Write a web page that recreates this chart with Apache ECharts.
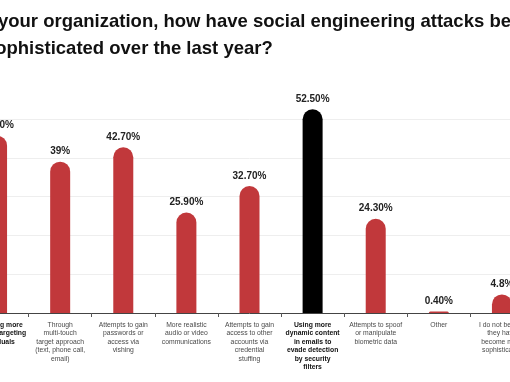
<!DOCTYPE html>
<html>
<head>
<meta charset="utf-8">
<script src="https://cdn.jsdelivr.net/npm/echarts@6/dist/echarts.min.js"></script>
<style>html,body{margin:0;padding:0;background:#fff;overflow:hidden;width:510px;height:382px;position:relative;}#c{position:absolute;left:-80px;top:0;width:640px;height:382px;}</style>
</head>
<body>
<div id="c"></div>
<script>
var titleLines = [
  "Within your organization, how have social engineering attacks become",
  "more sophisticated over the last year?"
];
var categories = [
  "Becoming more\nspecific, targeting\nindividuals",
  "Through\nmulti-touch\ntarget approach\n(text, phone call,\nemail)",
  "Attempts to gain\npasswords or\naccess via\nvishing",
  "More realistic\naudio or video\ncommunications",
  "Attempts to gain\naccess to other\naccounts via\ncredential\nstuffing",
  "Using more\ndynamic content\nin emails to\nevade detection\nby security\nfilters",
  "Attempts to spoof\nor manipulate\nbiometric data",
  "Other",
  "I do not believe\nthey have\nbecome more\nsophisticated"
];
var values = [45.7, 39, 42.7, 25.9, 32.7, 52.5, 24.3, 0.4, 4.8];
var valueLabels = ["45.70%", "39%", "42.70%", "25.90%", "32.70%", "52.50%", "24.30%", "0.40%", "4.8%"];
var boldLabels = [0, 5];

var chart = echarts.init(document.getElementById('c'), null, {renderer: 'canvas'});
var RED = '#c1383b';
chart.setOption({
  animation: false,
  backgroundColor: '#fff',
  graphic: [
    {type: 'text', left: 16.5, top: 12.5, silent: true,
     style: {text: titleLines[0], font: 'bold 18.5px "Liberation Sans", Arial, sans-serif', fill: '#111'}},
    {type: 'text', left: 14.5, top: 39.5, silent: true,
     style: {text: titleLines[1], font: 'bold 18.5px "Liberation Sans", Arial, sans-serif', fill: '#111'}}
  ],
  grid: {left: 45.5, right: 26.5, top: 119, bottom: 69, containLabel: false},
  xAxis: {
    type: 'category',
    data: categories,
    axisLine: {lineStyle: {color: '#444', width: 1}},
    axisTick: {show: true, length: 4, lineStyle: {color: '#555'}},
    axisLabel: {
      interval: 0,
      margin: 8,
      fontFamily: '"Liberation Sans", Arial, sans-serif',
      fontSize: 6.8,
      lineHeight: 8.4,
      color: '#4a4a4a',
      formatter: function (v, i) {
        if (boldLabels.indexOf(i) >= 0) {
          return v.split('\n').map(function (l) { return '{b|' + l + '}'; }).join('\n');
        }
        return v;
      },
      rich: {
        b: {fontWeight: 'bold', color: '#111', fontSize: 6.8, lineHeight: 8.4, fontFamily: '"Liberation Sans", Arial, sans-serif'}
      }
    }
  },
  yAxis: {
    type: 'value', min: 0, max: 50, interval: 10,
    axisLabel: {show: false},
    axisLine: {show: false},
    axisTick: {show: false},
    splitLine: {lineStyle: {color: '#eeeeee', width: 1}}
  },
  series: [{
    type: 'bar',
    clip: false,
    barWidth: 20,
    data: values.map(function (v, i) {
      return {value: v, itemStyle: {color: i === 5 ? '#000' : RED}};
    }),
    itemStyle: {borderRadius: [10, 10, 0, 0]},
    label: {
      show: true, position: 'top', distance: 5,
      fontFamily: '"Liberation Sans", Arial, sans-serif',
      fontWeight: 'bold', fontSize: 10, color: '#222',
      formatter: function (p) { return valueLabels[p.dataIndex]; }
    }
  }]
});
</script>
</body>
</html>
